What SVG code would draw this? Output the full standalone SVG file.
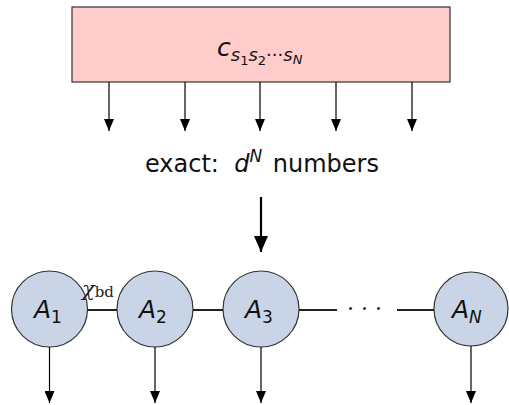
<svg xmlns="http://www.w3.org/2000/svg" width="509" height="405" viewBox="0 0 509 405">
<defs>
<marker id="ah" markerWidth="12" markerHeight="10" refX="12" refY="5" orient="auto" markerUnits="userSpaceOnUse" viewBox="0 0 12 10">
<path d="M0,0 L12,5 L0,10 Z" fill="#000"/>
</marker>
<marker id="ahb" markerWidth="16" markerHeight="14" refX="16" refY="7" orient="auto" markerUnits="userSpaceOnUse" viewBox="0 0 16 14">
<path d="M0,0 L16,7 L0,14 Z" fill="#000"/>
</marker>
</defs>
<style>
.t{font-family:"DejaVu Sans","Liberation Sans",sans-serif;fill:#111}
.it{font-style:italic}
.node circle{fill:#c9d5e6;stroke:#333;stroke-width:1.2}
.ar{stroke:#000;stroke-width:1.2;fill:none}
.bond{stroke:#222;stroke-width:2;fill:none}
</style>
<rect width="509" height="405" fill="#fff"/>
<g id="tensor">
<rect x="72" y="7" width="378" height="75" fill="#ffcccc" stroke="#333" stroke-width="1.2"/>
<text class="t it" x="217" y="56" font-size="25">c<tspan font-size="18" dy="5">s</tspan><tspan font-size="13" dy="4" font-style="normal">1</tspan><tspan font-size="18" dy="-4">s</tspan><tspan font-size="13" dy="4" font-style="normal">2</tspan><tspan font-size="18" dy="-4" font-style="normal">···</tspan><tspan font-size="18">s</tspan><tspan font-size="13" dy="3">N</tspan></text>
</g>
<g id="label">
<text class="t" x="145" y="172" font-size="24">exact:&#160; <tspan class="it">d</tspan><tspan class="it" font-size="17" dy="-10">N</tspan><tspan dy="10" dx="3"> numbers</tspan></text>
</g>
<g id="A1" class="node"><circle cx="49.5" cy="309" r="38"/><text class="t it" x="34" y="318" font-size="25">A<tspan font-size="17" dy="5" font-style="normal">1</tspan></text></g>
<g id="A2" class="node"><circle cx="155" cy="309" r="38"/><text class="t it" x="139" y="318" font-size="25">A<tspan font-size="17" dy="5" font-style="normal">2</tspan></text></g>
<g id="A3" class="node"><circle cx="261" cy="309" r="38"/><text class="t it" x="245" y="318" font-size="25">A<tspan font-size="17" dy="5" font-style="normal">3</tspan></text></g>
<g id="AN" class="node"><circle cx="471" cy="309" r="37"/><text class="t it" x="452" y="318" font-size="25">A<tspan font-size="17" dy="5">N</tspan></text></g>
<g id="connectors">
<line class="ar" x1="109" y1="82" x2="109" y2="131" marker-end="url(#ah)"/>
<line class="ar" x1="185" y1="82" x2="185" y2="131" marker-end="url(#ah)"/>
<line class="ar" x1="260" y1="82" x2="260" y2="131" marker-end="url(#ah)"/>
<line class="ar" x1="336" y1="82" x2="336" y2="131" marker-end="url(#ah)"/>
<line class="ar" x1="412" y1="82" x2="412" y2="131" marker-end="url(#ah)"/>
<line x1="261" y1="197" x2="261" y2="252" stroke="#000" stroke-width="2.2" marker-end="url(#ahb)"/>
<line class="bond" x1="87.5" y1="310" x2="117" y2="310"/>
<line class="bond" x1="193" y1="310" x2="223" y2="310"/>
<line class="bond" x1="299" y1="310" x2="337" y2="310"/>
<line class="bond" x1="397" y1="310" x2="434" y2="310"/>
<text x="347" y="316" font-family="DejaVu Serif,Liberation Serif,serif" font-size="22" fill="#222">· · ·</text>
<text x="82" y="296" font-family="DejaVu Serif,Liberation Serif,serif" font-size="21" fill="#222" font-style="italic">χ<tspan font-size="15" font-style="normal" dy="1">bd</tspan></text>
<line class="ar" x1="49.5" y1="347" x2="49.5" y2="403" marker-end="url(#ah)"/>
<line class="ar" x1="155" y1="347" x2="155" y2="403" marker-end="url(#ah)"/>
<line class="ar" x1="261" y1="347" x2="261" y2="403" marker-end="url(#ah)"/>
<line class="ar" x1="471" y1="346" x2="471" y2="403" marker-end="url(#ah)"/>
</g>
</svg>
